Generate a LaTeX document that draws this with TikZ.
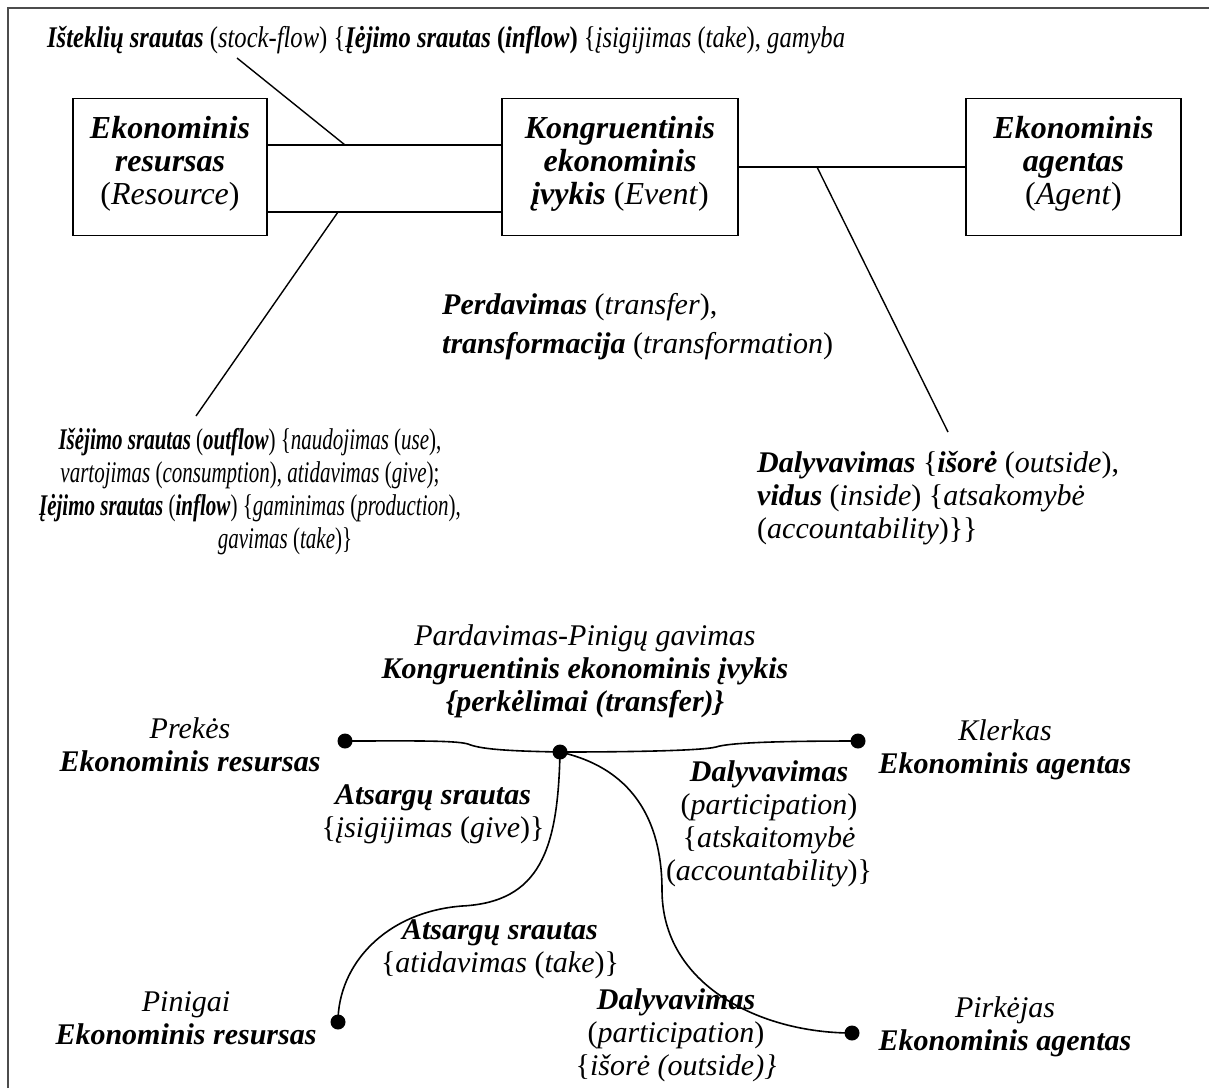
\documentclass[tikz,border=0pt]{standalone}
\usepackage{fontspec}
\setmainfont{Liberation Serif}
\newcommand{\boit}[1]{\textbf{\textit{#1}}}
\newcommand{\lblfont}{\fontsize{30}{33}\selectfont}
\newcommand{\boxfont}{\fontsize{32}{33}\selectfont}
\begin{document}
\begin{tikzpicture}[x=1pt,y=-1pt,
  every node/.style={inner sep=0pt, font=\lblfont, text=black},
  conceptbox/.style={draw, line width=1.6pt, align=center, font=\boxfont},
  link/.style={line width=1.4pt},
  flow/.style={line width=1.6pt},
  dotnode/.style={circle, fill=black, minimum size=15pt, inner sep=0pt},
  lbl/.style={align=center},
  lbll/.style={align=left, anchor=west},
  narrow/.style={xscale=#1, transform shape}]
\useasboundingbox (0,0) rectangle (1209,1088);

% page frame (top and left rules)
\draw[line width=2pt, black!70] (8,1088) -- (8,8) -- (1209,8);

% ---------- upper model ----------
\node[anchor=base west, narrow=0.82] (stock) at (47,47)
  {\boit{Išteklių srautas} (\textit{stock-flow}) \{\textbf{\textit{Įėjimo srautas} (\textit{inflow})} \{\textit{įsigijimas} (\textit{take}), \textit{gamyba}};

% the three concept boxes; text sits slightly above the box centre
\node[conceptbox, minimum width=194pt, minimum height=137pt, text depth=14pt] (res) at (170,167)
  {\boit{Ekonominis}\\ \boit{resursas}\\ (\textit{Resource})};
\node[conceptbox, minimum width=236pt, minimum height=137pt, text depth=14pt] (evt) at (620,167)
  {\boit{Kongruentinis}\\ \boit{ekonominis}\\ \boit{įvykis} (\textit{Event})};
\node[conceptbox, minimum width=215pt, minimum height=137pt, text depth=14pt] (agt) at (1073.5,167)
  {\boit{Ekonominis}\\ \boit{agentas}\\ (\textit{Agent})};

% levels of the three association lines
\coordinate (yin)  at (0,145);
\coordinate (yout) at (0,212);
\coordinate (yagt) at (0,167);

\draw[link] (res.east |- yin)  -- (evt.west |- yin);
\draw[link] (res.east |- yout) -- (evt.west |- yout);
\draw[link] (evt.east |- yagt) -- (agt.west |- yagt);

% leader lines from the associations to their labels
\coordinate (inpt)   at (345,145);
\coordinate (inend)  at (237,58);
\coordinate (outpt)  at (338,212);
\coordinate (outend) at (196,416);
\coordinate (agpt)   at (817,167);
\coordinate (agend)  at (948,432);
\draw[link] (inend) -- (inpt);
\draw[link] (outpt) -- (outend);
\draw[link] (agpt) -- (agend);

\node[lbll] (xfer) at (442,327)
  {\boit{Perdavimas} (\textit{transfer}),\\[6pt] \boit{transformacija} (\textit{transformation})};

\node[lbl, narrow=0.70] (outflow) at (250,492)
  {\boit{Išėjimo srautas} (\boit{outflow}) \{\textit{naudojimas} (\textit{use}),\\
   \textit{vartojimas} (\textit{consumption}), \textit{atidavimas} (\textit{give});\\
   \boit{Įėjimo srautas} (\boit{inflow}) \{\textit{gaminimas} (\textit{production}),\\
   \hspace*{100pt}\textit{gavimas} (\textit{take})\}};

\node[lbll] (partic) at (757,498)
  {\boit{Dalyvavimas} \{\boit{išorė} (\textit{outside}),\\
   \boit{vidus} (\textit{inside}) \{\textit{atsakomybė}\\
   (\textit{accountability})\}\}};

% ---------- lower example ----------
\node[dotnode] (goods)  at (345,741) {};
\node[dotnode] (sale)   at (560,752) {};
\node[dotnode] (clerk)  at (858,741) {};
\node[dotnode] (cash)   at (338,1022) {};
\node[dotnode] (buyer)  at (852,1033) {};

\draw[flow] (goods.center) .. controls (400,741) and (455,740) .. (468,744)
            .. controls (480,749) and (505,751) .. (sale.center);
\draw[flow] (sale.center) .. controls (620,752) and (700,751) .. (716,747)
            .. controls (728,743) and (770,741) .. (clerk.center);
\draw[flow] (sale.center) .. controls (558,850) and (540,902) .. (462,906)
            .. controls (385,912) and (338,965) .. (cash.center);
\draw[flow] (sale.center) .. controls (640,770) and (662,830) .. (662,890)
            .. controls (662,985) and (760,1033) .. (buyer.center);

\node[lbl] (saletxt) at (585,671)
  {\textit{Pardavimas-Pinigų gavimas}\\ \boit{Kongruentinis ekonominis įvykis}\\ \boit{\{perkėlimai (transfer)\}}};
\node[lbl] (goodstxt) at (190,745)
  {\textit{Prekės}\\ \boit{Ekonominis resursas}};
\node[lbl] (clerktxt) at (1005,750)
  {\textit{Klerkas}\\ \boit{Ekonominis agentas}};
\node[lbl] (stock1) at (433,814)
  {\boit{Atsargų srautas}\\ \{\textit{įsigijimas} (\textit{give})\}};
\node[lbl] (part1) at (769,824)
  {\boit{Dalyvavimas}\\ (\textit{participation})\\ \{\textit{atskaitomybė}\\ (\textit{accountability})\}};
\node[lbl] (stock2) at (500,949)
  {\boit{Atsargų srautas}\\ \{\textit{atidavimas} (\textit{take})\}};
\node[lbl] (cashtxt) at (186,1018)
  {\textit{Pinigai}\\ \boit{Ekonominis resursas}};
\node[lbl] (part2) at (676,1035)
  {\boit{Dalyvavimas}\\ (\textit{participation})\\ \{\textit{išorė (outside)\}}};
\node[lbl] (buyertxt) at (1005,1027)
  {\textit{Pirkėjas}\\ \boit{Ekonominis agentas}};
\end{tikzpicture}
\end{document}
